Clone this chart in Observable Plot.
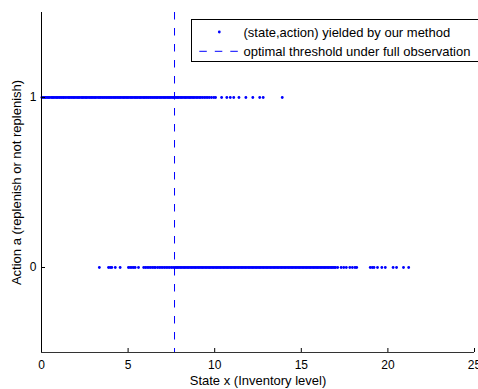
<!DOCTYPE html>
<html>
<head>
<meta charset="utf-8">
<script src="https://cdn.jsdelivr.net/npm/d3@7"></script>
<script src="https://cdn.jsdelivr.net/npm/@observablehq/plot@0.6"></script>
<style>
  html, body { margin: 0; padding: 0; overflow: hidden; background: #fff; }
  #wrap { position: relative; width: 478px; height: 389px; overflow: hidden; font-family: "Liberation Sans", Arial, Helvetica, sans-serif; }
  #legend { position: absolute; left: 191px; top: 19px; }
</style>
</head>
<body>
<div id="wrap"></div>
<script>
// State values where action = 1 (replenish)
const stateAction1 = [0.02,0.1,0.18,0.25,0.33,0.4,0.47,0.56,0.63,0.7,0.78,0.86,0.93,1.01,1.08,1.16,1.24,1.3,1.38,1.47,1.55,1.62,1.7,1.77,1.85,1.92,2.0,2.08,2.15,2.22,2.31,2.38,2.45,2.53,2.6,2.68,2.76,2.84,2.91,2.98,3.06,3.13,3.21,3.3,3.37,3.44,3.52,3.6,3.67,3.75,3.83,3.9,3.97,4.05,4.13,4.2,4.28,4.36,4.43,4.51,4.58,4.66,4.74,4.81,4.89,4.96,5.04,5.12,5.19,5.27,5.35,5.42,5.5,5.57,5.65,5.72,5.8,5.88,5.95,6.03,6.1,6.18,6.26,6.33,6.41,6.49,6.56,6.64,6.71,6.79,6.86,6.94,7.02,7.09,7.17,7.25,7.32,7.4,7.47,7.55,7.63,7.7,7.78,7.86,7.93,8.01,8.08,8.16,8.24,8.31,8.39,8.47,8.55,8.62,8.7,8.78,8.86,8.95,9.03,9.12,9.2,9.3,9.4,9.5,9.6,9.7,9.82,9.95,10.05,10.4,10.7,10.9,11.1,11.4,11.8,12.2,12.6,12.8,13.9];
// State values where action = 0 (not replenish)
const stateAction0 = [3.34,3.87,3.97,4.06,4.26,4.54,5.02,5.12,5.22,5.32,5.41,5.6,5.9,6.0,6.1,6.2,6.3,6.4,6.5,6.58,6.7,6.8,6.9,7.0,7.1,7.2,7.3,7.4,7.5,7.6,7.7,7.78,7.86,7.94,8.02,8.1,8.18,8.26,8.34,8.42,8.5,8.58,8.66,8.74,8.82,8.9,8.98,9.06,9.14,9.22,9.3,9.38,9.46,9.54,9.62,9.7,9.78,9.86,9.94,10.02,10.1,10.18,10.26,10.34,10.42,10.5,10.58,10.66,10.74,10.82,10.9,10.98,11.06,11.14,11.22,11.3,11.38,11.46,11.54,11.62,11.7,11.78,11.86,11.94,12.02,12.1,12.18,12.26,12.34,12.42,12.5,12.58,12.66,12.74,12.82,12.9,12.98,13.06,13.14,13.22,13.3,13.38,13.46,13.54,13.62,13.7,13.78,13.86,13.94,14.02,14.1,14.18,14.26,14.34,14.42,14.5,14.58,14.66,14.74,14.82,14.9,14.98,15.06,15.14,15.22,15.3,15.38,15.46,15.54,15.62,15.7,15.78,15.86,15.94,16.02,16.1,16.18,16.26,16.34,16.42,16.5,16.58,16.66,16.74,16.82,16.9,16.98,17.1,17.3,17.45,17.6,17.8,17.95,18.1,18.2,18.98,19.1,19.2,19.4,19.65,19.85,20.3,20.5,20.9,21.2];
const threshold = 7.68;
const xTicks = [0, 5, 10, 15, 20, 25];
const yTicks = [0, 1];
const legendLabels = ["(state,action) yielded by our method", "optimal threshold under full observation"];

const points = [
  ...stateAction1.map(x => ({x, a: 1})),
  ...stateAction0.map(x => ({x, a: 0}))
];

const FONT = '"Liberation Sans", Arial, Helvetica, sans-serif';

const chart = Plot.plot({
  width: 478,
  height: 389,
  marginLeft: 41,
  marginRight: 4,
  marginTop: 12,
  marginBottom: 37,
  style: {fontFamily: FONT, fontSize: "12px", color: "#000", background: "#fff", overflow: "visible"},
  x: {domain: [0, 25]},
  y: {domain: [-0.5, 1.5]},
  marks: [
    Plot.ruleX([threshold], {stroke: "#0000ff", strokeWidth: 1, strokeDasharray: "7.5,8.5"}),
    Plot.dot(points, {x: "x", y: "a", r: 1.4, fill: "#0000ff", stroke: "none"}),
    Plot.ruleX([0], {stroke: "#000", strokeWidth: 1}),
    Plot.ruleY([-0.5], {stroke: "#333", strokeWidth: 1}),
    Plot.axisX({ticks: xTicks, tickFormat: "d", tickSize: -4, tickPadding: 12, stroke: "#000", strokeOpacity: 1, fontSize: 12, label: null}),
    Plot.axisX({ticks: [], label: "State x (Inventory level)", labelAnchor: "center", labelArrow: "none", labelOffset: 32, fontSize: 13}),
    Plot.axisY({ticks: yTicks, tickFormat: "d", tickSize: -4, tickPadding: 9, stroke: "#000", strokeOpacity: 1, fontSize: 12, label: null}),
    Plot.axisY({ticks: [], label: "Action a (replenish or not replenish)", labelAnchor: "center", labelArrow: "none", labelOffset: 30, fontSize: 13})
  ]
});
document.getElementById("wrap").appendChild(chart);

// Legend
const lg = d3.select("#wrap").append("svg").attr("id", "legend").attr("width", 290).attr("height", 44);
lg.append("rect").attr("x", 0.5).attr("y", 0.5).attr("width", 300).attr("height", 42).attr("fill", "#fff").attr("stroke", "#000").attr("stroke-width", 1);
lg.append("circle").attr("cx", 28.3).attr("cy", 13).attr("r", 1.4).attr("fill", "#0000ff");
lg.append("line").attr("x1", 8.3).attr("x2", 47.5).attr("y1", 32.3).attr("y2", 32.3).attr("stroke", "#0000ff").attr("stroke-dasharray", "7.5,8");
lg.selectAll("text.l").data(legendLabels).join("text")
  .attr("x", 52.5).attr("y", (d, i) => i === 0 ? 13 : 32.3).attr("dy", "0.35em")
  .attr("font-family", FONT).attr("font-size", 13)
  .text(d => d);
</script>
</body>
</html>
